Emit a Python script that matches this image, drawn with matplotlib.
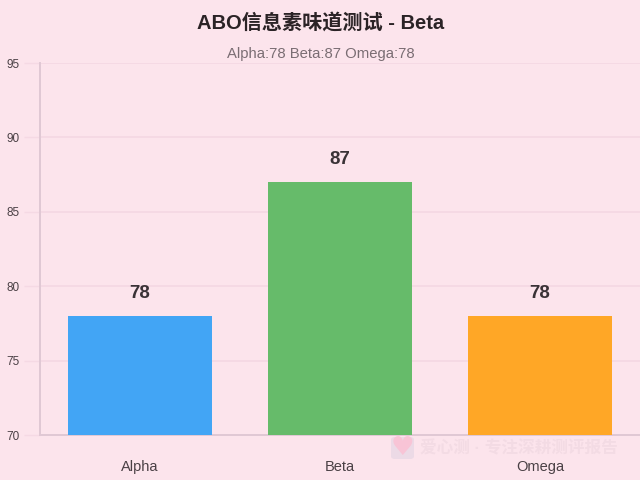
import matplotlib
matplotlib.use('Agg')
import matplotlib.pyplot as plt
from matplotlib.patches import FancyBboxPatch

bg_color = '#fce4ec'
grid_color = '#f5d9e4'
axis_color = '#e0c8d4'

categories = ['Alpha', 'Beta', 'Omega']
values = [78, 87, 78]
bar_colors = ['#42a5f5', '#66bb6a', '#ffa726']
y_ticks = [70, 75, 80, 85, 90, 95]

plt.rcParams['font.family'] = ['Liberation Sans', 'Noto Sans CJK SC', 'DejaVu Sans']


def main():
    fig = plt.figure(figsize=(6.4, 4.8), dpi=100, facecolor=bg_color)
    ax = fig.add_axes([40/640, 1-435/480, 600/640, (435-63)/480], facecolor=bg_color)

    ax.bar(range(len(categories)), values, width=0.72, color=bar_colors, zorder=3)
    ax.set_xlim(-0.5, 2.5)
    ax.set_ylim(70, 95)

    ax.set_yticks(y_ticks)
    ax.yaxis.grid(True, color=grid_color, linewidth=1.4, zorder=0)
    ax.xaxis.grid(False)
    ax.tick_params(axis='y', length=11.5, width=1.0, color=grid_color, labelsize=8.5,
                   labelcolor='#4a4045', pad=3.5)
    ax.set_xticks(range(len(categories)))
    ax.set_xticklabels(categories, fontsize=10.5, color='#4a4045')
    ax.tick_params(axis='x', length=0, pad=18)

    for spine in ['top', 'right']:
        ax.spines[spine].set_visible(False)
    for spine in ['left', 'bottom']:
        ax.spines[spine].set_color(axis_color)
        ax.spines[spine].set_linewidth(1.4)

    for i, v in enumerate(values):
        ax.annotate(str(v), (i, v), xytext=(0, 10), textcoords='offset points',
                    ha='center', va='bottom', fontsize=13.5, fontweight='bold',
                    color='#3a3236', zorder=4)

    fig.text(320.5/640, 1-23/480, 'ABO信息素味道测试 - Beta', ha='center', va='center',
             fontsize=14.5, fontweight='bold', color='#2b2326')
    fig.text(321/640, 1-54/480, 'Alpha:78 Beta:87 Omega:78', ha='center', va='center',
             fontsize=10.7, color='#7a6d73')

    # watermark
    fig.patches.append(FancyBboxPatch((391/640, 1-459/480), 23/640, 22/480,
                                      boxstyle='round,pad=0,rounding_size=0.006',
                                      transform=fig.transFigure, facecolor='#ecdae6',
                                      edgecolor='none', zorder=5))
    fig.text(402.5/640, 1-448/480, '♥', ha='center', va='center', fontsize=19,
             color='#f8c4d6', family=['DejaVu Sans'], zorder=6)
    fig.text(420/640, 1-448/480, '爱心测 · 专注深耕测评报告', ha='left', va='center',
             fontsize=12, fontweight='bold', color='#f3dbe4', zorder=6)

    fig.savefig('out.png', dpi=100, facecolor=bg_color)


if __name__ == "__main__":
    main()
